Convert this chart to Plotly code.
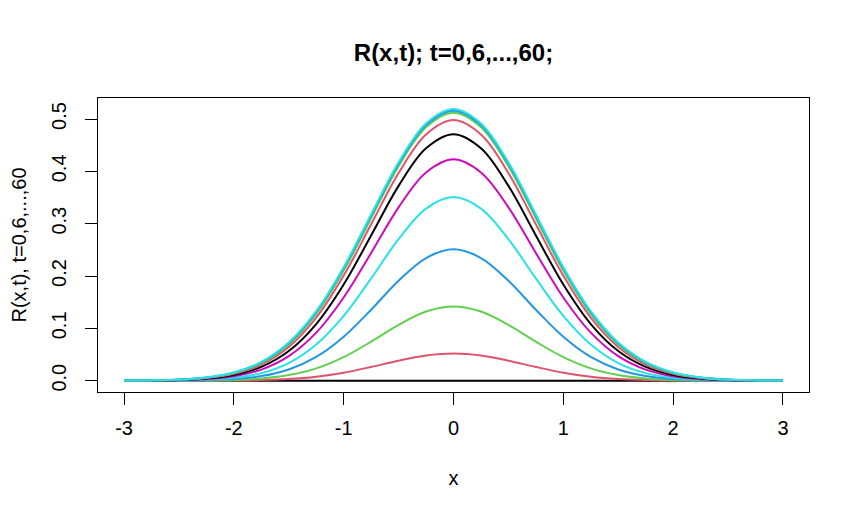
import plotly.graph_objects as go

# x grid
x_vals = [-3.0, -2.75, -2.5, -2.25, -2.0, -1.75, -1.5, -1.25, -1.0, -0.75, -0.5, -0.25,
          0.0, 0.25, 0.5, 0.75, 1.0, 1.25, 1.5, 1.75, 2.0, 2.25, 2.5, 2.75, 3.0]

# series labels (t values)
t_labels = ["t=0", "t=6", "t=12", "t=18", "t=24", "t=30", "t=36", "t=42", "t=48", "t=54", "t=60"]

# one-sided values (x = 0, 0.25, ..., 3); curves are symmetric
R_t0 = [0.0] * 13
R_t6 = [0.0520, 0.0482, 0.0383, 0.0262, 0.0153, 0.0077, 0.0033, 0.0012, 0.0004, 0.0001, 0.0000, 0.0000, 0.0000]
R_t12 = [0.1420, 0.1322, 0.1066, 0.0745, 0.0451, 0.0236, 0.0107, 0.0042, 0.0014, 0.0004, 0.0001, 0.0000, 0.0000]
R_t18 = [0.2510, 0.2344, 0.1909, 0.1356, 0.0840, 0.0454, 0.0214, 0.0088, 0.0032, 0.0010, 0.0003, 0.0001, 0.0000]
R_t24 = [0.3510, 0.3289, 0.2706, 0.1954, 0.1239, 0.0690, 0.0337, 0.0145, 0.0055, 0.0018, 0.0005, 0.0001, 0.0000]
R_t30 = [0.4230, 0.3979, 0.3313, 0.2440, 0.1590, 0.0918, 0.0469, 0.0212, 0.0085, 0.0030, 0.0009, 0.0003, 0.0001]
R_t36 = [0.4710, 0.4441, 0.3723, 0.2775, 0.1838, 0.1083, 0.0567, 0.0264, 0.0109, 0.0040, 0.0013, 0.0004, 0.0001]
R_t42 = [0.4980, 0.4705, 0.3969, 0.2988, 0.2008, 0.1205, 0.0645, 0.0308, 0.0132, 0.0050, 0.0017, 0.0005, 0.0001]
R_t48 = [0.5120, 0.4843, 0.4100, 0.3105, 0.2105, 0.1277, 0.0693, 0.0336, 0.0146, 0.0057, 0.0020, 0.0006, 0.0002]
R_t54 = [0.5160, 0.4885, 0.4144, 0.3150, 0.2147, 0.1311, 0.0717, 0.0351, 0.0154, 0.0061, 0.0021, 0.0007, 0.0002]
R_t60 = [0.5190, 0.4915, 0.4173, 0.3177, 0.2169, 0.1328, 0.0729, 0.0359, 0.0158, 0.0063, 0.0022, 0.0007, 0.0002]

half_series = [R_t0, R_t6, R_t12, R_t18, R_t24, R_t30, R_t36, R_t42, R_t48, R_t54, R_t60]

x_ticks = [-3, -2, -1, 0, 1, 2, 3]
y_ticks = [0.0, 0.1, 0.2, 0.3, 0.4, 0.5]
y_tick_text = ["0.0", "0.1", "0.2", "0.3", "0.4", "0.5"]

palette = ["#000000", "#DF536B", "#61D04F", "#2297E6", "#28E2E5", "#CD0BBC"]

FONT = "Liberation Sans, Arial, sans-serif"

fig = go.Figure()
for i, half in enumerate(half_series):
    full = list(reversed(half[1:])) + list(half)
    fig.add_trace(go.Scatter(
        x=x_vals, y=full, mode="lines", name=t_labels[i],
        line=dict(color=palette[i % 6], width=2, shape="spline", smoothing=1.0),
        showlegend=False,
    ))

# the page body adds an 8px offset, compensated in the margins
OFF = 8
L, R, T, B = 98 - OFF, 51 + OFF, 98 - OFF, 123 + OFF
fig.update_layout(
    template="none",
    width=860, height=515,
    paper_bgcolor="white", plot_bgcolor="white",
    margin=dict(l=L, r=R, t=T, b=B, pad=0),
    font=dict(family=FONT, size=20, color="black"),
    title=dict(text="<b>R(x,t); t=0,6,...,60;</b>", x=(L + 860 - R) / 2 / 860, xanchor="center",
               y=1 - (53 - OFF) / 515, yanchor="middle", font=dict(family=FONT, size=24, color="black")),
)
fig.update_xaxes(
    range=[-3.237, 3.237], tickvals=x_ticks, ticktext=[str(v) for v in x_ticks],
    showgrid=False, zeroline=False, showline=True, mirror=True, linecolor="black", linewidth=1.3,
    ticks="outside", ticklen=12, tickcolor="black", tickwidth=1.3, tickfont=dict(size=20),
    ticklabelstandoff=6, automargin=False,
    title=dict(text="x", font=dict(size=20), standoff=32),
)
fig.update_yaxes(
    range=[-0.0216, 0.5402], tickvals=y_ticks, ticktext=y_tick_text, tickangle=-90,
    showgrid=False, zeroline=False, showline=True, mirror=True, linecolor="black", linewidth=1.3,
    ticks="outside", ticklen=12, tickcolor="black", tickwidth=1.3, tickfont=dict(size=20),
    ticklabelstandoff=11, automargin=False,
    title=dict(text="R(x,t), t=0,6,...,60", font=dict(size=20), standoff=28),
)

fig.write_html("out.html")
